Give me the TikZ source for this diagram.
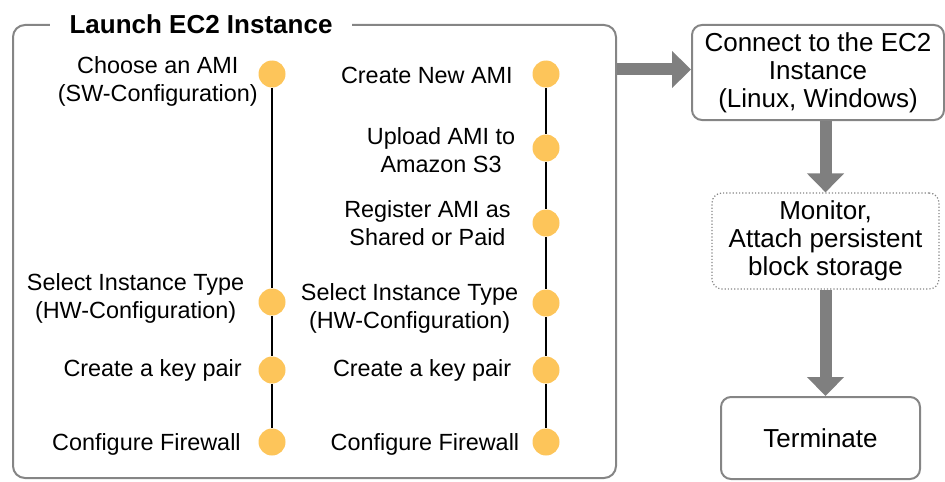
\documentclass[tikz,border=0pt]{standalone}
\usepackage{fontspec}
\setmainfont{Liberation Sans}
\usetikzlibrary{arrows.meta}
\definecolor{dotorange}{HTML}{FDC55A}
\definecolor{boxgray}{HTML}{858585}
\definecolor{arrowgray}{HTML}{7F7F7F}
\tikzset{
  dot/.style={circle,fill=dotorange,inner sep=0pt,minimum size=13.5pt},
  lbl/.style={anchor=east,align=center,inner sep=0pt,font=\fontsize{11.7}{14}\selectfont},
  stepbox/.style={draw=boxgray,line width=1pt,rounded corners=5pt,align=center,font=\fontsize{13}{14}\selectfont},
  bigarrow/.style={arrowgray,line width=6pt,-{Triangle[width=18pt,length=9.5pt]}}
}

\begin{document}
\begin{tikzpicture}[x=.5pt,y=-.5pt]
  \useasboundingbox (0,0) rectangle (945,481);
  % launch frame
  \node[draw=boxgray,line width=1pt,rounded corners=6pt,minimum width=301.5pt,minimum height=226.5pt] (launch) at (314.5,251.5) {};
  \node[fill=white,inner xsep=10pt,inner ysep=1pt,font=\bfseries\fontsize{13}{15}\selectfont] (title) at (201,24) {Launch EC2 Instance};

  % left track
  \foreach \n/\y in {1/74,2/302,3/370,4/442} \node[dot] (a\n) at (272,\y) {};
  \draw[line width=.8pt] (a1) -- (a2) -- (a3) -- (a4);
  \foreach \n/\dx/\dy/\txt in {1/0/7/{Choose an AMI\\(SW-Configuration)},
      2/-13.5/-3.5/{Select Instance Type\\(HW-Configuration)},
      3/-16/0/{Create a key pair},4/-17/2/{Configure Firewall}}
    \node[lbl] (la\n) at ([shift={(\dx,\dy)}]a\n.west) {\txt};

  % right track
  \foreach \n/\y in {1/74,2/148,3/223,4/303,5/370,6/442} \node[dot] (b\n) at (546,\y) {};
  \draw[line width=.8pt] (b1) -- (b2) -- (b3) -- (b4) -- (b5) -- (b6);
  \foreach \n/\dx/\dy/\txt in {1/-19/1/{Create New AMI},
      2/-16.5/2/{Upload AMI to\\Amazon S3},
      3/-21/0/{Register AMI as\\Shared or Paid},
      4/-13.5/5.5/{Select Instance Type\\(HW-Configuration)},
      5/-20.5/0/{Create a key pair},6/-12.5/2/{Configure Firewall}}
    \node[lbl] (lb\n) at ([shift={(\dx,\dy)}]b\n.west) {\txt};

  % after launch
  \node[stepbox,minimum width=126pt,minimum height=47.5pt] (conn) at (818,72.5) {Connect to the EC2\\Instance\\(Linux, Windows)};
  \node[stepbox,line width=.6pt,densely dotted,minimum width=113.5pt,minimum height=48pt] (mon) at (825.5,241) {Monitor,\\Attach persistent\\block storage};
  \node[stepbox,minimum width=99.5pt,minimum height=41pt] (term) at (820.5,438) {Terminate};

  \draw[bigarrow] ([yshift=1.5pt]launch.east |- conn.west) -- ([yshift=1.5pt]conn.west);
  \draw[bigarrow] (conn.south -| mon.north) -- (mon.north);
  \draw[bigarrow] (mon.south) -- (mon.south |- term.north);
\end{tikzpicture}
\end{document}
